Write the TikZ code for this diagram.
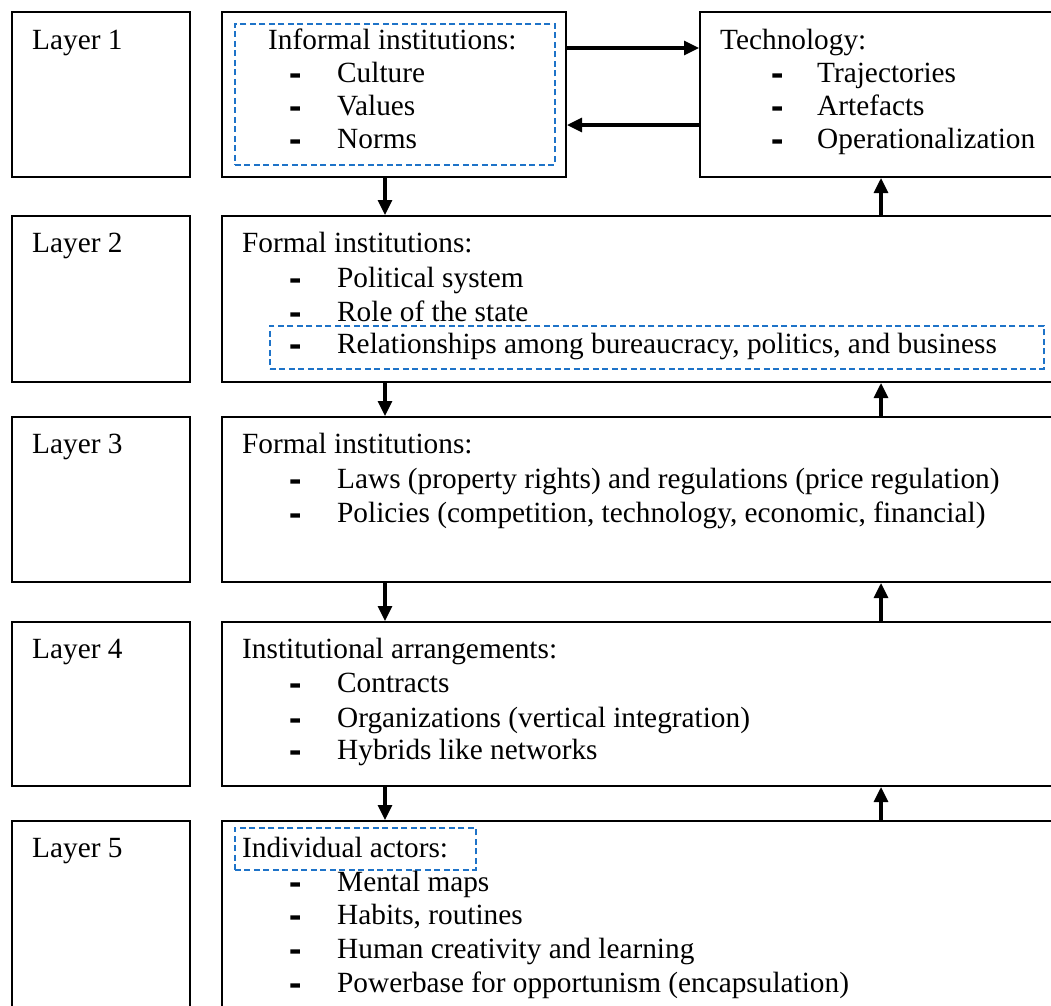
\documentclass[tikz,border=0pt]{standalone}
\usepackage{fontspec}
\setmainfont{Liberation Serif}
% heavy face for the list dashes
\newfontfamily\dashfont{Liberation Serif Bold}[FakeBold=6]
\usetikzlibrary{arrows.meta}

\definecolor{markblue}{RGB}{30,115,200}

\begin{document}
\begin{tikzpicture}[x=1bp,y=-1bp,
  box/.style={draw=black, line width=2bp, rectangle, inner sep=0pt, anchor=north west},
  markbox/.style={draw=markblue, line width=1.6bp, dash pattern=on 6bp off 3.5bp, rectangle, inner sep=0pt, anchor=north west},
  txt/.style={anchor=base west, inner sep=0pt, font=\fontsize{29.3bp}{34bp}\selectfont},
  bullet/.style={txt, font=\fontsize{29.3bp}{34bp}\dashfont},
  link/.style={line width=3.2bp, -{Triangle[length=15bp,width=14bp]}}
]
\useasboundingbox (0,0) rectangle (1051,1006);
\clip (0,0) rectangle (1051,1006);

% layer label boxes (left column)
\foreach \top/\h/\base [count=\i] in {11/165/49, 215/166/252, 416/165/453, 621/164/658, 820/210/857}{
  \node[box, minimum width=178bp, minimum height=\h bp] (L\i) at (11,\top) {};
  \node[txt] (L\i-label) at (32,\base) {Layer \i};
}

% content boxes
\node[box, minimum width=344bp, minimum height=165bp] (inf) at (221,11) {};
\node[box, minimum width=371bp, minimum height=165bp] (tech) at (699,11) {};
\node[box, minimum width=849bp, minimum height=166bp] (F2) at (221,215) {};
\node[box, minimum width=849bp, minimum height=165bp] (F3) at (221,416) {};
\node[box, minimum width=849bp, minimum height=164bp] (F4) at (221,621) {};
\node[box, minimum width=849bp, minimum height=210bp] (F5) at (221,820) {};

% highlighted parts
\node[markbox, minimum width=320bp, minimum height=141bp] (hl1) at (234,23) {};
\node[markbox, minimum width=774bp, minimum height=43bp] (hl2) at (269,325) {};
\node[markbox, minimum width=241bp, minimum height=42bp] (hl5) at (234,827) {};

% Layer 1: informal institutions and technology
\node[txt] (inf-head) at (268,49) {Informal institutions:};
\foreach \y/\t [count=\i] in {82/Culture, 115/Values, 148/Norms}{
  \node[bullet] (inf-d\i) at (290,\y+0.5) {-};
  \node[txt] (inf-\i) at (337,\y) {\t};
}
\node[txt] (tech-head) at (720,49) {Technology:};
\foreach \y/\t [count=\i] in {82/Trajectories, 115/Artefacts, 148/Operationalization}{
  \node[bullet] (tech-d\i) at (772,\y+0.5) {-};
  \node[txt] (tech-\i) at (817,\y) {\t};
}

% Layer 2
\node[txt] (F2-head) at (242,252) {Formal institutions:};
\foreach \y/\t [count=\i] in {287/Political system, 321/Role of the state, 353/{Relationships among bureaucracy, politics, and business}}{
  \node[bullet] (F2-d\i) at (290,\y+0.5) {-};
  \node[txt] (F2-\i) at (337,\y) {\t};
}

% Layer 3
\node[txt] (F3-head) at (242,453) {Formal institutions:};
\foreach \y/\t [count=\i] in {488/{Laws (property rights) and regulations (price regulation)}, 522/{Policies (competition, technology, economic, financial)}}{
  \node[bullet] (F3-d\i) at (290,\y+0.5) {-};
  \node[txt] (F3-\i) at (337,\y) {\t};
}

% Layer 4
\node[txt] (F4-head) at (242,658) {Institutional arrangements:};
\foreach \y/\t [count=\i] in {692/Contracts, 727/{Organizations (vertical integration)}, 759/Hybrids like networks}{
  \node[bullet] (F4-d\i) at (290,\y+0.5) {-};
  \node[txt] (F4-\i) at (337,\y) {\t};
}

% Layer 5
\node[txt] (F5-head) at (242,857) {Individual actors:};
\foreach \y/\t [count=\i] in {891/Mental maps, 924/{Habits, routines}, 958/Human creativity and learning, 992/{Powerbase for opportunism (encapsulation)}}{
  \node[bullet] (F5-d\i) at (290,\y+0.5) {-};
  \node[txt] (F5-\i) at (337,\y) {\t};
}

% connectors
\coordinate (dn) at (385,0);
\coordinate (up) at (881,0);
\coordinate (rt) at (0,48);
\coordinate (lf) at (0,125);
\draw[link] (inf.east |- rt) -- (tech.west |- rt);
\draw[link] (tech.west |- lf) -- (inf.east |- lf);
\draw[link] (inf.south -| dn) -- (F2.north -| dn);
\draw[link] (F2.north -| up) -- (tech.south -| up);
\draw[link] (F2.south -| dn) -- (F3.north -| dn);
\draw[link] (F3.north -| up) -- (F2.south -| up);
\draw[link] (F3.south -| dn) -- (F4.north -| dn);
\draw[link] (F4.north -| up) -- (F3.south -| up);
\draw[link] (F4.south -| dn) -- (F5.north -| dn);
\draw[link] (F5.north -| up) -- (F4.south -| up);
\end{tikzpicture}
\end{document}
